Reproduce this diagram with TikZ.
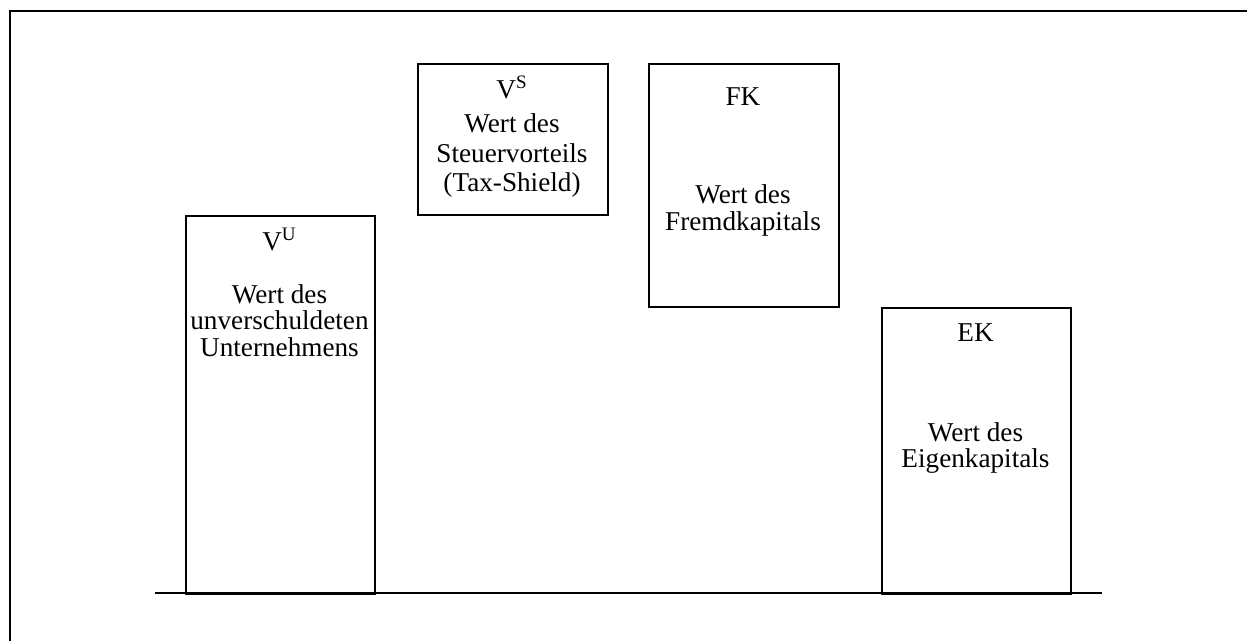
\documentclass[tikz,border=0pt]{standalone}
\usepackage{fontspec}
\setmainfont{Liberation Serif}
\begin{document}
\begin{tikzpicture}[x=0.5pt,y=-0.5pt,
  frameline/.style={line width=1.4pt},
  valuebox/.style={draw,line width=1.1pt,rectangle,inner sep=0pt,anchor=north west},
  txt/.style={anchor=base,inner sep=0pt,font=\fontsize{13.6}{15}\selectfont}]
\useasboundingbox (0,0) rectangle (1247,641);
% outer frame (top and left edges)
\coordinate (ftl) at (10,11);
\coordinate (ftr) at (1247,11);
\coordinate (fbl) at (10,641);
\draw[frameline] (ftr) -- (ftl) -- (fbl);
% value boxes
\node[valuebox,minimum width=189pt*0.5,minimum height=378pt*0.5] (vu) at (185,215) {};
\node[valuebox,minimum width=190pt*0.5,minimum height=151pt*0.5] (vs) at (417,63) {};
\node[valuebox,minimum width=190pt*0.5,minimum height=243pt*0.5] (fk) at (648,63) {};
\node[valuebox,minimum width=189pt*0.5,minimum height=286pt*0.5] (ek) at (881,307) {};
% ground line
\coordinate (gl) at (155,593);
\coordinate (gr) at (1102,593);
\draw[frameline] (gl) -- (gr);
% labels
\node[txt] (vu1) at (279.5,251) {V\textsuperscript{U}};
\node[txt] (vu2) at (279.5,304) {Wert des};
\node[txt] (vu3) at (279.5,330) {unverschuldeten};
\node[txt] (vu4) at (279.5,357) {Unternehmens};
\node[txt] (vs1) at (512,99) {V\textsuperscript{S}};
\node[txt] (vs2) at (512,133) {Wert des};
\node[txt] (vs3) at (512,163) {Steuervorteils};
\node[txt] (vs4) at (512,192) {(Tax-Shield)};
\node[txt] (fk1) at (743,106) {FK};
\node[txt] (fk2) at (743,204) {Wert des};
\node[txt] (fk3) at (743,231) {Fremdkapitals};
\node[txt] (ek1) at (975.5,342) {EK};
\node[txt] (ek2) at (975.5,441) {Wert des};
\node[txt] (ek3) at (975.5,467) {Eigenkapitals};
\end{tikzpicture}
\end{document}
